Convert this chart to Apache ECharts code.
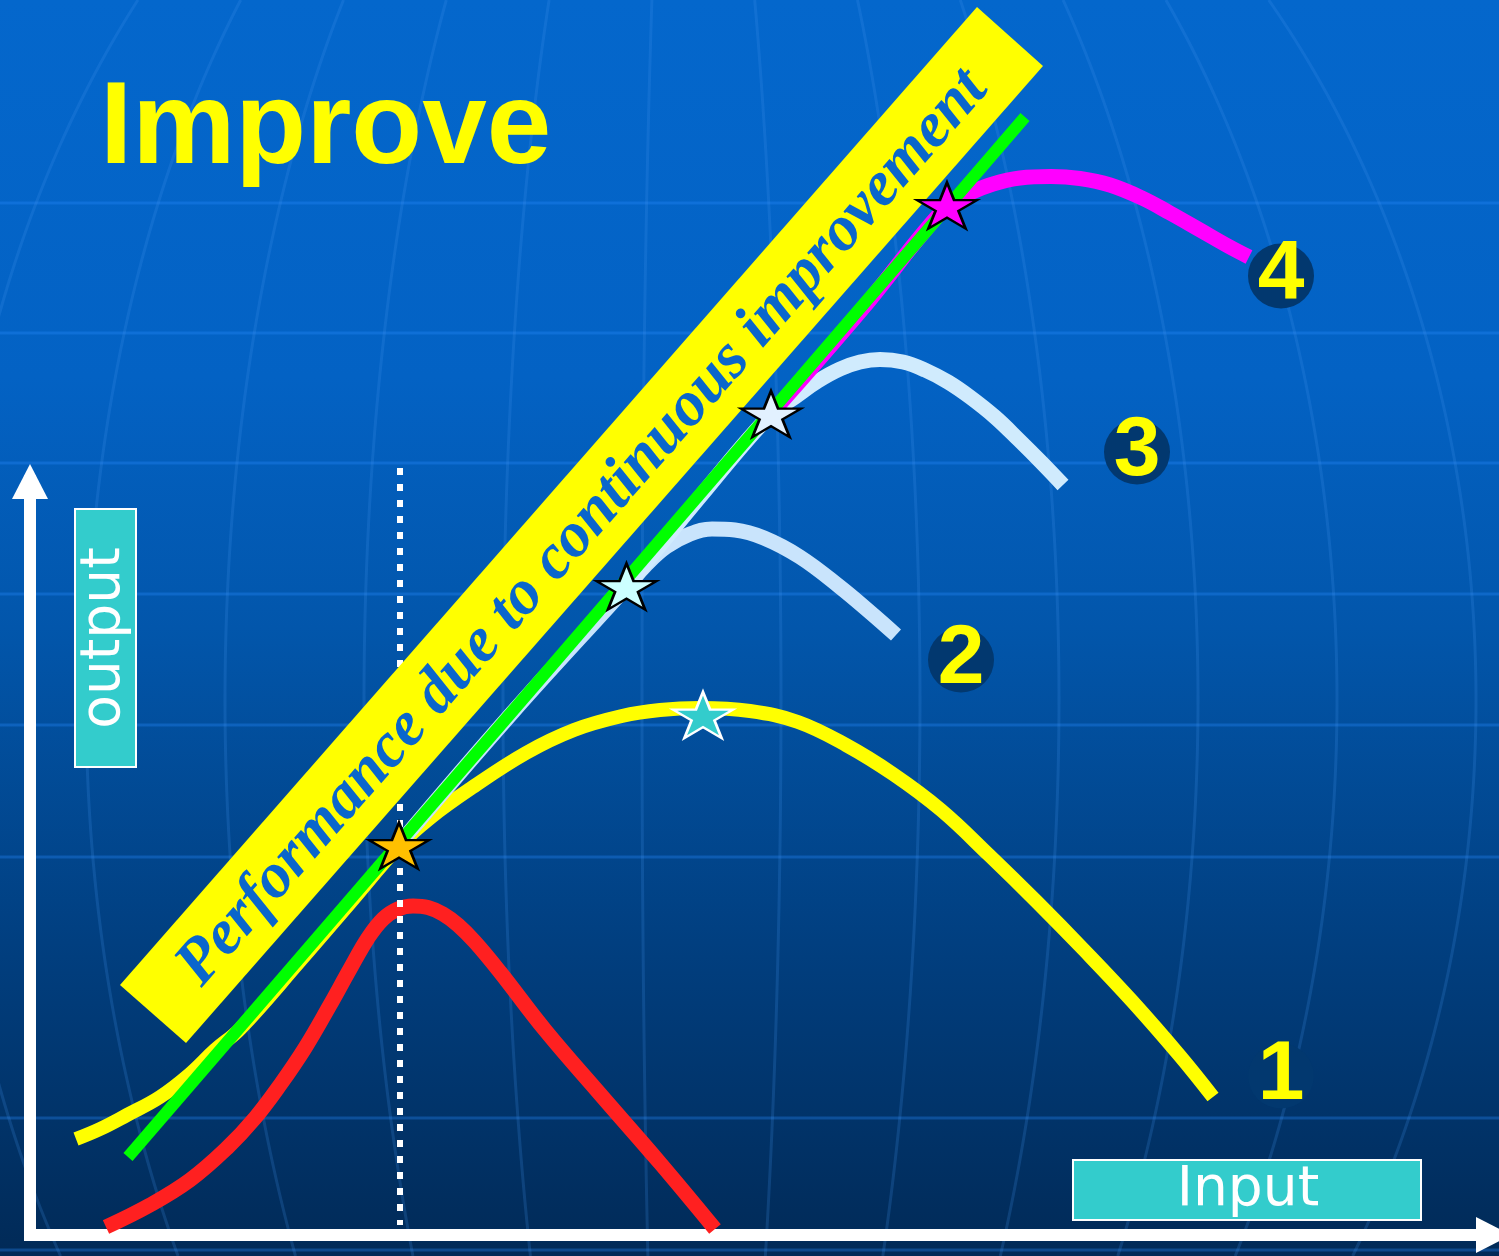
<!DOCTYPE html>
<html>
<head>
<meta charset="utf-8">
<script src="https://cdn.jsdelivr.net/npm/echarts@6/dist/echarts.min.js"></script>
<style>
html,body{margin:0;padding:0;background:#0366cc;overflow:hidden;}
#chart{width:1499px;height:1256px;}
</style>
</head>
<body>
<div id="chart"></div>
<script>
// ---- data (x = input, y = output) ----
const xMax = 146.35;
const yMax = 75.35;

const curve1 = [[4.6,9.6],[7.0,10.6],[9.7,12.0],[13.0,13.8],[16.0,16.1],[18.5,18.5],[21.0,20.6],[27.0,27.4],
  [32.0,33.2],[36.9,38.9],[40.0,41.7],[44.0,44.6],[49.6,48.2],[54.4,50.5],[59.2,51.9],[63.0,52.5],[67.0,52.7],
  [72.0,52.4],[76.8,51.3],[81.6,49.0],[86.3,46.1],[91.1,42.5],[95.9,38.0],[100.7,33.3],[105.4,28.5],
  [110.2,23.4],[115.0,17.9],[118.3,13.8]];
const curve0 = [[7.6,0.8],[12.0,3.0],[16.0,5.5],[19.7,8.7],[22.5,11.7],[25.0,15.0],[27.5,18.7],[30.0,23.0],
  [32.0,26.6],[33.8,29.7],[35.3,31.6],[36.8,32.6],[38.3,32.9],[39.8,32.75],[41.3,32.1],[42.8,31.0],[44.5,29.3],
  [47.0,26.3],[51.5,20.5],[57.0,14.1],[63.0,7.2],[68.5,0.6]];
const curve2 = [[37.0,39.2],[48.2,52.2],[59.65,64.8],[61.5,66.9],[63.6,68.8],[66.0,70.1],[68.2,70.6],[70.5,70.5],
  [73.4,69.7],[77.0,67.8],[81.0,64.8],[84.1,62.2],[86.6,60.0]];
const curve3 = [[59.65,64.8],[67.15,74.0],[74.1,82.1],[76.5,83.8],[78.8,85.4],[81.0,86.6],[83.0,87.3],[85.0,87.55],
  [87.3,87.3],[89.5,86.5],[91.8,85.3],[94.0,83.8],[96.5,81.8],[98.9,79.5],[101.2,77.2],[103.3,75.0]];
const curve4 = [[74.1,82.1],[83.15,92.5],[91.7,102.95],[94.0,104.2],[96.3,105.1],[99.0,105.7],[102.1,105.85],
  [105.0,105.65],[108.0,105.0],[111.2,103.7],[114.0,102.2],[117.0,100.5],[119.8,98.9],[121.9,97.8]];
const frontier = [[9.8,7.8],[99.5,111.8]];
const inputLevel = [[37.0,76.7],[37.0,1.0]];
const starPoints = [[36.9,38.95],[67.3,52.0],[59.65,64.85],[74.1,82.1],[91.7,102.95]];
const labelNames = ['1','2','3','4'];
const labelPoints = [[125.1,15.9],[93.1,57.5],[110.7,78.3],[125.1,95.9]];
const bannerText = 'Performance due to continuous improvement';
const titleText = 'Improve';
const xName = 'Input';
const yName = 'output';

// ---- styles ----
const starStyles = [
  {color:'#ffc000', borderColor:'#000000'},
  {color:'#33cccc', borderColor:'#ffffff'},
  {color:'#ccffff', borderColor:'#000000'},
  {color:'#e2f1ff', borderColor:'#000000'},
  {color:'#ff00ff', borderColor:'#000000'}
];
const starPath = 'path://M0,-100L22.45,-30.9L95.1,-30.9L36.33,11.8L58.78,80.9L0,38.2L-58.78,80.9L-36.33,11.8L-95.1,-30.9L-22.45,-30.9Z';

function curve(data, color, width, z) {
  return {type:'line', data: data, smooth: 0.4, symbol:'none', clip:false, silent:true,
    lineStyle:{color: color, width: width, cap:'butt', join:'round', opacity:1}, z: z};
}

// ---- background decoration ----
const bg = [];
bg.push({type:'rect', shape:{x:0,y:0,width:1499,height:1256}, z:-10, silent:true,
  style:{fill:new echarts.graphic.LinearGradient(0,0,0,1,[
    {offset:0,color:'#0467cc'},{offset:0.3,color:'#0362c4'},{offset:0.5,color:'#0256ab'},
    {offset:0.75,color:'#013f80'},{offset:1,color:'#012a57'}])}});
[203,333,463,594,725,857,1118,1250].forEach(function(y){
  bg.push({type:'line', shape:{x1:0,y1:y,x2:1499,y2:y}, z:-9, silent:true,
    style:{stroke:'rgba(40,140,255,0.32)', lineWidth:3}});
});
[-733,-594,-455,-316,-177,-38,101,240,379,518,657,796].forEach(function(a){
  const pts = [];
  for (let y = 0; y <= 1256; y += 8) {
    const t = (y - 700) / 1040;
    pts.push([680 + a * Math.sqrt(Math.max(0, 1 - t * t)), y]);
  }
  bg.push({type:'polyline', shape:{points:pts}, z:-9, silent:true,
    style:{stroke:'rgba(70,150,240,0.2)', lineWidth:3, fill:null}});
});

const ang = Math.atan2(977, 857);
const decor = [
  {type:'polygon', shape:{points:[[120,985],[186,1043],[1043,66],[977,7]]}, z:5, silent:true,
    style:{fill:'#ffff00'}},
  {type:'text', x:583, y:528, rotation:ang, z:6, silent:true,
    style:{text:bannerText, font:'italic bold 64px "Liberation Serif", "Times New Roman", serif',
      fill:'#0a66cc', align:'center', verticalAlign:'middle', textAlign:'center', textVerticalAlign:'middle'}},
  {type:'text', x:100, y:131, z:6, silent:true,
    style:{text:titleText, font:'bold 116px "Liberation Sans", Arial, sans-serif', fill:'#ffff00',
      align:'left', verticalAlign:'middle', textAlign:'left', textVerticalAlign:'middle'}},
  {type:'rect', shape:{x:75,y:509,width:61,height:258}, z:6, silent:true,
    style:{fill:'#33cccc', stroke:'#ffffff', lineWidth:2}},
  {type:'text', x:105, y:638, rotation:Math.PI/2, z:7, silent:true,
    style:{text:yName, font:'55px "DejaVu Sans", Verdana, sans-serif', fill:'#ffffff',
      align:'center', verticalAlign:'middle', textAlign:'center', textVerticalAlign:'middle'}},
  {type:'rect', shape:{x:1073,y:1160,width:348,height:60}, z:6, silent:true,
    style:{fill:'#33cccc', stroke:'#ffffff', lineWidth:2}},
  {type:'text', x:1248, y:1191, z:7, silent:true,
    style:{text:xName, font:'55px "DejaVu Sans", Verdana, sans-serif', fill:'#ffffff',
      align:'center', verticalAlign:'middle', textAlign:'center', textVerticalAlign:'middle'}}
];

const axisCommon = {
  type:'value', min:0,
  axisLine:{show:true, onZero:false, symbol:['none','triangle'], symbolSize:[36,35],
    lineStyle:{color:'#ffffff', width:12, cap:'square'}},
  axisTick:{show:false}, axisLabel:{show:false}, splitLine:{show:false}
};

const chart = echarts.init(document.getElementById('chart'), null, {renderer:'canvas'});
chart.setOption({
  animation:false,
  backgroundColor:'#0366cc',
  grid:{left:30, right:5.5, top:481.5, bottom:21, containLabel:false, outerBoundsMode:'none'},
  xAxis:Object.assign({}, axisCommon, {max:xMax}),
  yAxis:Object.assign({}, axisCommon, {max:yMax}),
  graphic:{elements: bg.concat(decor)},
  series:[
    curve(curve0, '#ff2020', 15, 3),
    {type:'line', data: inputLevel, symbol:'none', clip:false, silent:true, z:3.5,
      lineStyle:{color:'#ffffff', width:6, type:[7,9], cap:'butt'}},
    curve(curve1, '#ffff00', 14, 3),
    curve(curve2, '#c9e4fc', 15, 3),
    curve(curve3, '#d0ebfd', 15, 3),
    curve(curve4, '#ff00ff', 15, 3),
    {type:'line', data: frontier, symbol:'none', clip:false, silent:true, z:4,
      lineStyle:{color:'#00ff00', width:12, cap:'butt'}},
    {type:'scatter', symbol: starPath, symbolSize:[60,46], clip:false, silent:true, z:10,
      itemStyle:{opacity:1},
      data: starPoints.map(function(p, i){
        return {value:p, itemStyle:{color:starStyles[i].color, borderColor:starStyles[i].borderColor, borderWidth:2.5, opacity:1}};
      })},
    {type:'scatter', symbol:'circle', symbolSize:[66,65], clip:false, silent:true, z:10,
      itemStyle:{color:'#02386f', opacity:1},
      label:{show:true, position:'inside', formatter:'{b}', color:'#ffff00', fontSize:84, opacity:1,
        fontWeight:'bold', fontFamily:'"Liberation Sans", Arial, sans-serif'},
      data: labelPoints.map(function(p, i){ return {name:labelNames[i], value:p}; })}
  ]
});
</script>
</body>
</html>
